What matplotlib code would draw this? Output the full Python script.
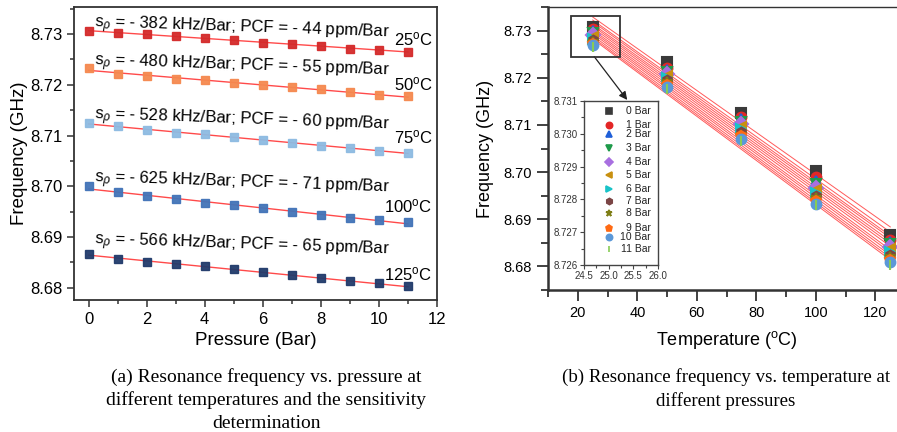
import numpy as np
import matplotlib
matplotlib.use('Agg')
import matplotlib.pyplot as plt
from matplotlib.patches import Rectangle
from matplotlib.ticker import MultipleLocator, FormatStrFormatter

plt.rcParams['font.family'] = 'Liberation Sans'
plt.rcParams['mathtext.fontset'] = 'custom'
plt.rcParams['mathtext.rm'] = 'Liberation Sans'
plt.rcParams['mathtext.it'] = 'Liberation Sans:italic'

# measured resonance frequency (GHz) vs pressure (Bar) at each temperature
pressure = np.arange(12)
temps = [25, 50, 75, 100, 125]
f_25 = [8.73068, 8.73027, 8.72998, 8.72958, 8.72913, 8.72875,
        8.72832, 8.72796, 8.72758, 8.72713, 8.72685, 8.72648]
f_50 = [8.72329, 8.72217, 8.72171, 8.72118, 8.72086, 8.72039,
        8.71993, 8.71947, 8.71908, 8.71855, 8.71803, 8.71770]
f_75 = [8.71243, 8.71178, 8.71118, 8.71059, 8.71020, 8.70961,
        8.70908, 8.70855, 8.70796, 8.70757, 8.70697, 8.70658]
f_100 = [8.70013, 8.69889, 8.69803, 8.69751, 8.69666, 8.69626,
         8.69567, 8.69489, 8.69443, 8.69377, 8.69331, 8.69292]
f_125 = [8.68662, 8.68570, 8.68511, 8.68472, 8.68420, 8.68361,
         8.68308, 8.68243, 8.68190, 8.68131, 8.68085, 8.68033]
freq = np.array([f_25, f_50, f_75, f_100, f_125])

# pressure sensitivity and pressure coefficient of frequency
sens_khz = [-382, -480, -528, -625, -566]
pcf_ppm = [-44, -55, -60, -71, -65]

temp_colors = ['#d42a2a', '#f5894f', '#8dbbe2', '#4274b8', '#213b6b']
note_y = [8.7313, 8.7239, 8.7132, 8.7007, 8.6886]
temp_label_y = [8.7277, 8.7189, 8.7085, 8.6948, 8.6815]

p_markers = ['s', 'o', '^', 'v', 'D', '<', '>', 'h', '*', 'p', 'o', '|']
p_colors = ['#3a3a3a', '#e32626', '#1f5fd8', '#1e9a4a', '#a86fe0', '#c89010',
            '#19c3c8', '#7b4545', '#7e7e16', '#ff6a13', '#5b98d8', '#88cc55']

fig = plt.figure(figsize=(8.97, 4.32), dpi=100)

# ---- (a) frequency vs pressure ----
ax1 = fig.add_axes([0.0825, 0.3056, 0.4047, 0.678])
for i, t in enumerate(temps):
    f = freq[i]
    slope = sens_khz[i] * 1e-6
    b = np.mean(f) - slope * np.mean(pressure)
    px = np.array([0, 11])
    ax1.plot(px, b + slope * px, color='#ff4a4a', lw=1.0, zorder=2)
    ax1.plot(pressure, f, 's', color=temp_colors[i], ms=6, mec=temp_colors[i],
             alpha=0.95, zorder=3)
    ax1.text(0.2, note_y[i],
             r'$\mathrm{s}_{\rho}$ = - %d kHz/Bar; PCF = - %d ppm/Bar'
             % (abs(sens_khz[i]), abs(pcf_ppm[i])),
             fontsize=12, rotation=-2, rotation_mode='anchor',
             ha='left', va='baseline')
    ax1.text(11.85, temp_label_y[i], r'%d$^{\mathrm{o}}$C' % t, fontsize=12,
             ha='right', va='baseline')

ax1.set_xlim(-0.5, 12)
ax1.set_ylim(8.6776, 8.7353)
ax1.xaxis.set_major_locator(MultipleLocator(2))
ax1.xaxis.set_minor_locator(MultipleLocator(1))
ax1.yaxis.set_major_locator(MultipleLocator(0.01))
ax1.yaxis.set_minor_locator(MultipleLocator(0.005))
ax1.yaxis.set_major_formatter(FormatStrFormatter('%.2f'))
ax1.tick_params(which='both', direction='out', top=False, right=False,
                width=1.1, color='#333333', labelsize=12)
ax1.tick_params(which='major', length=5)
ax1.tick_params(which='minor', length=3)
for s in ax1.spines.values():
    s.set_linewidth(1.3)
    s.set_color('#333333')
ax1.set_xlabel('Pressure (Bar)', fontsize=13.5)
ax1.set_ylabel('Frequency (GHz)', fontsize=13.5)
ax1.xaxis.label.set_va('center')
ax1.yaxis.label.set_va('center')
ax1.xaxis.set_label_coords(0.5, -0.137)
ax1.yaxis.set_label_coords(-0.149, 0.5)

# ---- (b) frequency vs temperature ----
ax2 = fig.add_axes([0.611, 0.3287, 0.4147, 0.655])
for j in pressure:
    c = np.polyfit(temps, freq[:, j], 1)
    tx = np.array([25, 125])
    ax2.plot(tx, np.polyval(c, tx), color='#ff5a5a', lw=0.7, zorder=2)
for j in pressure:
    ax2.plot(temps, freq[:, j], ls='none', marker=p_markers[j], color=p_colors[j],
             ms=7, mew=1.5, zorder=3)

ax2.add_patch(Rectangle((17.6, 8.7245), 16.5, 0.0087, fill=False,
                        ec='#333333', lw=1.3, zorder=4))
ax2.annotate('', xy=(36.6, 8.7153), xytext=(25.5, 8.7245),
             arrowprops=dict(arrowstyle='-|>', color='#222222', lw=0.9,
                             mutation_scale=12, shrinkA=0, shrinkB=0))

ax2.set_xlim(10, 135)
ax2.set_ylim(8.675, 8.735)
ax2.xaxis.set_major_locator(MultipleLocator(20))
ax2.xaxis.set_minor_locator(MultipleLocator(10))
ax2.yaxis.set_major_locator(MultipleLocator(0.01))
ax2.yaxis.set_minor_locator(MultipleLocator(0.005))
ax2.yaxis.set_major_formatter(FormatStrFormatter('%.2f'))
ax2.tick_params(which='both', direction='out', top=False, right=False,
                width=1.3, color='#333333', labelsize=10.5)
ax2.tick_params(which='major', length=8)
ax2.tick_params(which='minor', length=5)
for s in ax2.spines.values():
    s.set_color('#333333')
ax2.spines['left'].set_linewidth(1.8)
ax2.spines['bottom'].set_linewidth(1.8)
ax2.spines['top'].set_linewidth(1.0)
ax2.set_xlabel(r'Temperature ($^{\mathrm{o}}$C)', fontsize=13)
ax2.set_ylabel('Frequency (GHz)', fontsize=13)
ax2.xaxis.label.set_va('center')
ax2.yaxis.label.set_va('center')
ax2.xaxis.set_label_coords(0.481, -0.177)
ax2.yaxis.set_label_coords(-0.169, 0.5)

# inset: zoom on the 25 oC points
ins = fig.add_axes([0.651, 0.3866, 0.0825, 0.3796])
for j in pressure:
    ins.plot(25, freq[0, j], ls='none', marker=p_markers[j], color=p_colors[j],
             ms=4.5, mew=1.2)
    ins.text(25.86, freq[0, j], '%d Bar' % j, fontsize=7.5, ha='right',
             va='center', color='#222222')
ins.set_xlim(24.5, 26.0)
ins.set_ylim(8.726, 8.731)
ins.xaxis.set_major_locator(MultipleLocator(0.5))
ins.xaxis.set_minor_locator(MultipleLocator(0.25))
ins.yaxis.set_major_locator(MultipleLocator(0.001))
ins.yaxis.set_minor_locator(MultipleLocator(0.0005))
ins.yaxis.set_major_formatter(FormatStrFormatter('%.3f'))
ins.xaxis.set_major_formatter(FormatStrFormatter('%.1f'))
ins.tick_params(which='both', direction='out', top=False, right=False,
                width=0.8, color='#444444', labelsize=7, labelcolor='#333333',
                pad=1.5)
ins.tick_params(which='major', length=3)
ins.tick_params(which='minor', length=2)
for s in ins.spines.values():
    s.set_color('#444444')
    s.set_linewidth(1.0)

# captions
caption_a = ['(a) Resonance frequency vs. pressure at',
             'different temperatures and the sensitivity',
             'determination']
caption_b = ['(b) Resonance frequency vs. temperature at',
             'different pressures']
for k, line in enumerate(caption_a):
    fig.text(266 / 897, 1 - (377 + 23 * k) / 432, line, family='Liberation Serif',
             fontsize=14, ha='center', va='center')
for k, line in enumerate(caption_b):
    fig.text(726 / 897, 1 - (377 + 24 * k) / 432, line, family='Liberation Serif',
             fontsize=13.6, ha='center', va='center')

fig.savefig('out.png', dpi=100)
